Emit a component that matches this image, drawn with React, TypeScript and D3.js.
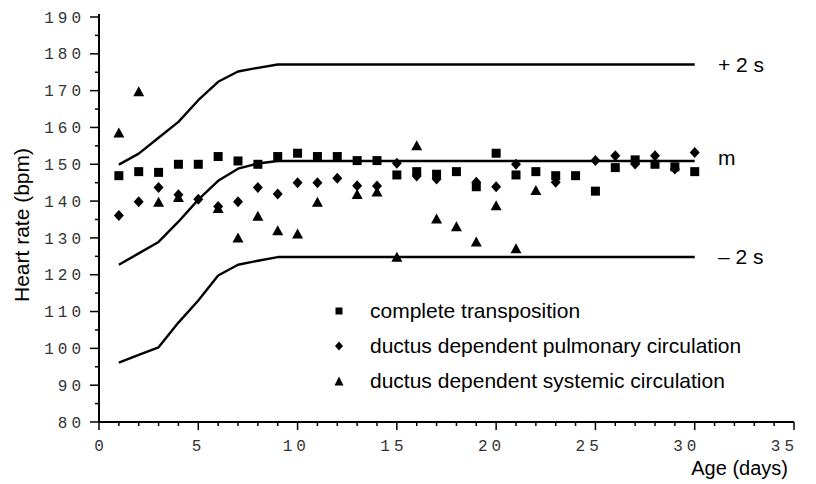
import React from 'react';
import * as d3 from 'd3';

// ages (days) of each observation
const days = [1, 2, 3, 4, 5, 6, 7, 8, 9, 10, 11, 12, 13, 14, 15, 16, 17, 18, 19, 20, 21, 22, 23, 24, 25, 26, 27, 28, 29, 30];
const transposition = [146.9, 148.0, 147.8, 150.0, 150.0, 152.1, 150.9, 150.0, 152.1, 153.0, 152.1, 152.1, 151.0, 151.0, 147.1, 148.0, 147.3, 148.0, 143.9, 153.0, 147.1, 148.0, 146.9, 146.9, 142.7, 149.1, 151.2, 150.0, 149.3, 148.0];

const pulmonaryDays = [1, 2, 3, 4, 5, 6, 7, 8, 9, 10, 11, 12, 13, 14, 15, 16, 17, 19, 20, 21, 23, 25, 26, 27, 28, 29, 30];
const pulmonary = [136.1, 139.8, 143.7, 141.7, 140.5, 138.5, 139.8, 143.7, 141.9, 145.0, 145.0, 146.2, 144.2, 144.1, 150.3, 146.8, 146.0, 145.1, 143.9, 150.0, 145.1, 151.0, 152.3, 150.1, 152.3, 148.7, 153.2];

const systemicDays = [1, 2, 3, 4, 6, 7, 8, 9, 10, 11, 13, 14, 15, 16, 17, 18, 19, 20, 21, 22];
const systemic = [158.6, 169.8, 139.8, 141.1, 138.1, 130.1, 136.0, 132.1, 131.2, 139.8, 141.9, 142.6, 124.9, 155.2, 135.3, 133.2, 129.0, 138.9, 127.2, 143.0];

// reference curves: mean and +/- 2 SD
const normDays = [1, 2, 3, 4, 5, 6, 7, 8, 9, 30];
const upper = [149.9, 152.9, 157.2, 161.5, 167.4, 172.4, 175.2, 176.2, 177.1, 177.1];
const mean = [122.7, 125.8, 128.9, 134.4, 140.4, 145.5, 148.8, 150.2, 150.9, 150.9];
const lower = [96.1, 98.2, 100.3, 107.0, 113.0, 119.8, 122.7, 123.8, 124.8, 124.8];

const xTicks = [0, 5, 10, 15, 20, 25, 30, 35];
const yTicks = [80, 90, 100, 110, 120, 130, 140, 150, 160, 170, 180, 190];
const bandLabels = ['+ 2 s', 'm', '\u2013 2 s'];
const legendLabels = ['complete transposition', 'ductus dependent pulmonary circulation', 'ductus dependent systemic circulation'];

const W = 816;
const H = 484;

const x = d3.scaleLinear().domain([0, 35]).range([99, 794]);
const y = d3.scaleLinear().domain([80, 190]).range([422, 17]);

const square = (s: number) => `M${-s / 2},${-s / 2}h${s}v${s}h${-s}Z`;
const diamond = (w: number, h: number) => `M0,${-h / 2}L${w / 2},0L0,${h / 2}L${-w / 2},0Z`;
const triangle = (w: number, h: number) => `M0,${-h / 2}L${w / 2},${h / 2}L${-w / 2},${h / 2}Z`;

const sans = '"Liberation Sans", Arial, sans-serif';
const mono = '"Liberation Mono", "Courier New", monospace';

export default function App() {
  const line = d3.line<number>()
    .x((_, i) => x(normDays[i]))
    .y(d => y(d));

  const xMinor = d3.range(0, 36);
  const yMinor = d3.range(80, 191, 5);
  const flatY = [upper, mean, lower].map(s => y(s[s.length - 1]));

  return (
    <svg width={W} height={H} style={{ position: 'absolute', left: 0, top: 0, background: '#fff' }}>
      {/* axes */}
      <g stroke="#000" fill="none">
        <line x1={x(0)} x2={x(0)} y1={y(190) - 3} y2={y(80)} strokeWidth={2} />
        <line x1={x(0)} x2={x(35)} y1={y(80)} y2={y(80)} strokeWidth={2} />
        {yMinor.map(v => (
          <line key={'y' + v} x1={x(0) - (v % 10 === 0 ? 9 : 4)} x2={x(0)} y1={y(v)} y2={y(v)} strokeWidth={1.5} />
        ))}
        {xMinor.map(v => (
          <line key={'x' + v} x1={x(v)} x2={x(v)} y1={y(80)} y2={y(80) + (v % 5 === 0 ? 8 : 4)} strokeWidth={1.5} />
        ))}
      </g>
      <g fontFamily={mono} fontSize={16} fill="#333" letterSpacing={4}>
        {yTicks.map(v => (
          <text key={v} x={85} y={y(v)} dy="0.35em" textAnchor="end">{v}</text>
        ))}
        {/* the scanned labels drift a little left of their ticks */}
        {xTicks.map(v => (
          <text key={v} x={x(v) + 2 - v * 0.33} y={445} dy="0.35em" textAnchor="middle">{v}</text>
        ))}
      </g>
      <text x={788} y={468} dy="0.35em" textAnchor="end" fontFamily={sans} fontSize={20}>Age (days)</text>
      <text transform={`translate(22,${225}) rotate(-90)`} dy="0.35em" textAnchor="middle" fontFamily={sans} fontSize={21}>Heart rate (bpm)</text>

      {/* reference curves */}
      <g fill="none" stroke="#000" strokeWidth={2.4} strokeLinejoin="round">
        {[upper, mean, lower].map((s, i) => <path key={i} d={line(s) || ''} />)}
      </g>
      <g fontFamily={sans} fontSize={21}>
        {bandLabels.map((t, i) => (
          <text key={t} x={718} y={flatY[i] + (i === 1 ? -3 : 0)} dy="0.35em">{t}</text>
        ))}
      </g>

      {/* data points */}
      <g fill="#000">
        {transposition.map((v, i) => (
          <path key={'s' + i} transform={`translate(${x(days[i])},${y(v)})`} d={square(9)} />
        ))}
        {pulmonary.map((v, i) => (
          <path key={'d' + i} transform={`translate(${x(pulmonaryDays[i])},${y(v)})`} d={diamond(10, 11)} />
        ))}
        {systemic.map((v, i) => (
          <path key={'t' + i} transform={`translate(${x(systemicDays[i])},${y(v)})`} d={triangle(11, 10)} />
        ))}
      </g>

      {/* legend */}
      <g fontFamily={sans} fontSize={21}>
        {legendLabels.map((t, i) => {
          const ly = 311 + i * 35;
          const mark = i === 0 ? square(7) : i === 1 ? diamond(8, 9) : triangle(9, 9);
          return (
            <g key={t}>
              <path transform={`translate(339,${ly})`} d={mark} fill="#000" />
              <text x={370} y={ly} dy="0.35em">{t}</text>
            </g>
          );
        })}
      </g>
    </svg>
  );
}
